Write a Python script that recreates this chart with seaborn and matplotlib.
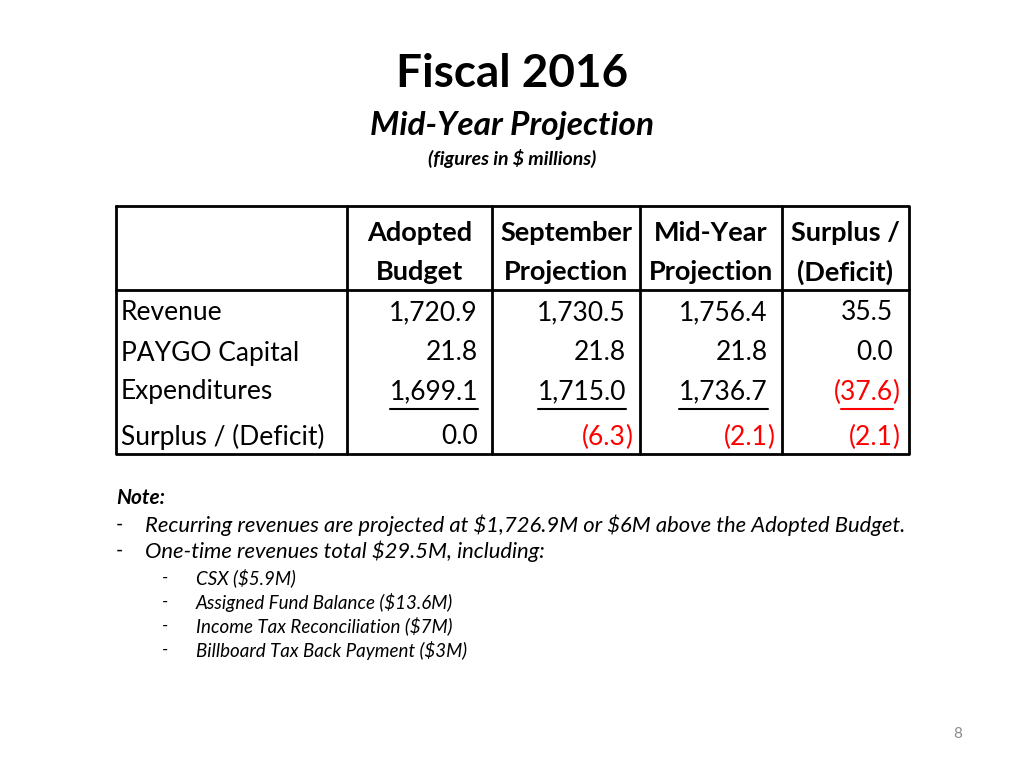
import matplotlib.pyplot as plt
import seaborn as sns

# table content
col_heads = [('Adopted', 'Budget'), ('September', 'Projection'),
             ('Mid-Year', 'Projection'), ('Surplus /', '(Deficit)')]
row_labels = ['Revenue', 'PAYGO Capital', 'Expenditures', 'Surplus / (Deficit)']
adopted = [1720.9, 21.8, 1699.1, 0.0]
september = [1730.5, 21.8, 1715.0, -6.3]
midyear = [1756.4, 21.8, 1736.7, -2.1]
surplus = [35.5, 0.0, -37.6, -2.1]
columns = [adopted, september, midyear, surplus]

notes = ['Recurring revenues are projected at $1,726.9M or $6M above the Adopted Budget.',
         'One-time revenues total $29.5M, including:']
sub_notes = ['CSX ($5.9M)', 'Assigned Fund Balance ($13.6M)',
             'Income Tax Reconciliation ($7M)', 'Billboard Tax Back Payment ($3M)']

sns.set_theme(style='white')
plt.rcParams['font.family'] = ['Lato', 'DejaVu Sans']
plt.rcParams['text.color'] = 'black'
plt.rcParams['text.parse_math'] = False

fig = plt.figure(figsize=(10.24, 7.68), dpi=100)
ax = fig.add_axes([0, 0, 1, 1])
ax.set_xlim(0, 1024)
ax.set_ylim(768, 0)
ax.axis('off')

RED = '#ff0000'
FS = 19

# titles
ax.text(512, 74, 'Fiscal 2016', ha='center', va='center', fontsize=33, weight='bold')
ax.text(512, 126, 'Mid-Year Projection', ha='center', va='center', fontsize=24,
        weight='bold', style='italic')
ax.text(512, 158, '(figures in $ millions)', ha='center', va='center', fontsize=14,
        weight='bold', style='italic')

# table frame
left, right, top, bottom = 116, 909, 206, 454
col_edges = [347, 492, 640, 782]
head_sep = 290
lw = 2
ax.plot([left, right, right, left, left], [top, top, bottom, bottom, top], color='black', lw=lw)
for x in col_edges:
    ax.plot([x, x], [top, bottom], color='black', lw=lw)
ax.plot([left, right], [head_sep, head_sep], color='black', lw=lw)

# header
bounds = col_edges + [right]
for i, (l1, l2) in enumerate(col_heads):
    cx = (bounds[i] + bounds[i + 1]) / 2
    ax.text(cx, 233, l1, ha='center', va='center', fontsize=19.5, weight='bold')
    ax.text(cx, 272, l2, ha='center', va='center', fontsize=19.5, weight='bold')

row_y = [313, 353, 392, 437]
for label, y in zip(row_labels, row_y):
    ax.text(121, y, label, ha='left', va='center', fontsize=FS)

num_right = [478, 626, 768, 893]
underlines = []
for j, vals in enumerate(columns):
    xr = num_right[j]
    for i, v in enumerate(vals):
        y = row_y[i]
        if v < 0:
            ax.text(xr, y, '({:,.1f}'.format(-v), ha='right', va='center',
                    fontsize=FS, color=RED)
            ax.text(xr - 1, y, ')', ha='left', va='center', fontsize=FS, color=RED)
            body = ax.text(xr, y, '{:,.1f}'.format(-v), ha='right', va='center',
                           fontsize=FS, alpha=0)
            color = RED
        else:
            body = ax.text(xr, y, '{:,.1f}'.format(v), ha='right', va='center',
                           fontsize=FS)
            color = 'black'
        if i == 2:
            underlines.append((body, xr, color))

fig.canvas.draw()
inv = ax.transData.inverted()
for body, xr, color in underlines:
    bb = body.get_window_extent()
    x0 = inv.transform((bb.x0, bb.y0))[0]
    ax.plot([x0, xr], [409, 409], color=color, lw=1.5)

# notes
ax.text(116, 498, 'Note:', ha='left', va='center', fontsize=15, weight='bold', style='italic')
for k, line in enumerate(notes):
    y = 525 + k * 26
    ax.text(116, y, '-', ha='left', va='center', fontsize=15, style='italic')
    ax.text(145, y, line, ha='left', va='center', fontsize=15.8, style='italic')
for k, line in enumerate(sub_notes):
    y = 578 + k * 24
    ax.text(162, y, '-', ha='left', va='center', fontsize=13, style='italic')
    ax.text(196, y, line, ha='left', va='center', fontsize=13.5, style='italic')

ax.text(958, 734, '8', ha='center', va='center', fontsize=11, color='#8c8c8c')

fig.savefig('out.png', dpi=100, facecolor='white')
